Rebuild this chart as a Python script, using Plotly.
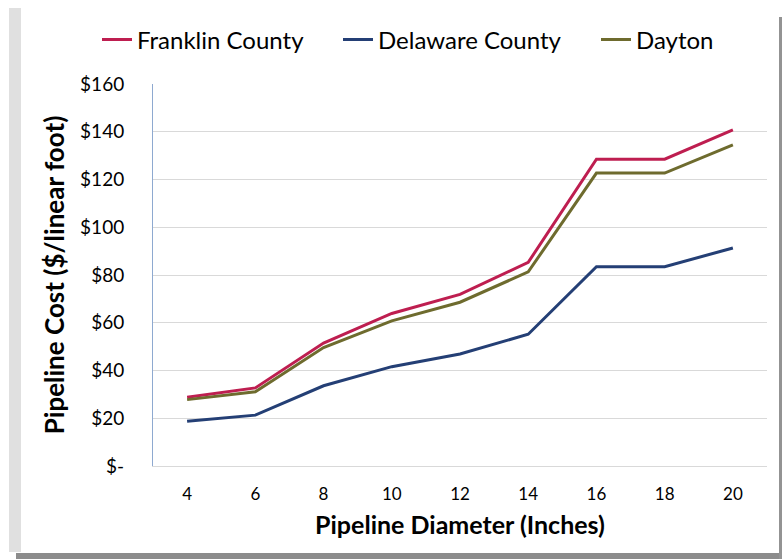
import plotly.graph_objects as go

diameters = [4, 6, 8, 10, 12, 14, 16, 18, 20]
franklin = [28.8, 32.7, 51.5, 63.9, 71.9, 85.3, 128.5, 128.5, 140.8]
delaware = [18.7, 21.3, 33.6, 41.6, 46.9, 55.2, 83.5, 83.5, 91.3]
dayton = [27.8, 31.1, 49.6, 60.8, 68.6, 81.3, 122.7, 122.7, 134.5]

y_tickvals = [0, 20, 40, 60, 80, 100, 120, 140, 160]
y_ticktext = ["$-", "$20", "$40", "$60", "$80", "$100", "$120", "$140", "$160"]

FONT = "Lato"

fig = go.Figure()
fig.add_trace(go.Scatter(x=diameters, y=franklin, mode="lines", name="Franklin County",
                         line=dict(color="#BE1E50", width=3), legend="legend"))
fig.add_trace(go.Scatter(x=diameters, y=delaware, mode="lines", name="Delaware County",
                         line=dict(color="#243F75", width=3), legend="legend2"))
fig.add_trace(go.Scatter(x=diameters, y=dayton, mode="lines", name="Dayton",
                         line=dict(color="#6E6B2E", width=3), legend="legend3"))

# frame (paper coords: plot x 153..767 px, y 84..466 px)
def px(x):
    return (x - 153) / 614

def py(y):
    return (466 - y) / 382

shapes = [
    dict(type="rect", xref="paper", yref="paper", x0=px(9), x1=px(21), y0=py(552), y1=py(8),
         fillcolor="#E0E0E0", line=dict(width=0), layer="below"),
    dict(type="rect", xref="paper", yref="paper", x0=px(16), x1=px(782), y0=py(559), y1=py(553),
         fillcolor="#8C8C8C", line=dict(width=0), layer="below"),
    dict(type="rect", xref="paper", yref="paper", x0=px(779), x1=px(782), y0=py(559), y1=py(17),
         fillcolor="#939393", line=dict(width=0), layer="below"),
]

def leg(xpix):
    return dict(orientation="h", x=px(xpix), xanchor="left", y=py(40), yanchor="middle",
                font=dict(size=24, family=FONT), bgcolor="rgba(0,0,0,0)", borderwidth=0,
                itemwidth=30)

fig.update_layout(
    width=782, height=559,
    margin=dict(l=153, r=15, t=84, b=93),
    paper_bgcolor="white", plot_bgcolor="white",
    font=dict(family=FONT, color="#000000"),
    shapes=shapes,
    showlegend=True,
    legend=leg(97),
    legend2=leg(338),
    legend3=leg(596),
    xaxis=dict(range=[3, 21], tickvals=diameters, ticktext=[str(d) for d in diameters],
               showgrid=False, zeroline=False, showline=True, linecolor="#D9D9D9", linewidth=1,
               ticks="", ticklabelstandoff=13, tickfont=dict(size=17, family=FONT),
               title=dict(text="<b>Pipeline Diameter (Inches)</b>", font=dict(size=25, family=FONT),
                          standoff=13)),
    yaxis=dict(range=[0, 160], tickvals=y_tickvals, ticktext=y_ticktext,
               showgrid=True, gridcolor="#D9D9D9", gridwidth=1, zeroline=False,
               showline=True, linecolor="#8EA9D0", linewidth=1, ticks="",
               ticklabelstandoff=24, tickfont=dict(size=19, family=FONT),
               title=dict(text="<b>Pipeline Cost ($/linear foot)</b>", font=dict(size=26, family=FONT),
                          standoff=8)),
)

fig.write_html("out.html", config={"displayModeBar": False},
               post_script="document.body.style.margin='0';document.body.style.overflow='hidden';")
